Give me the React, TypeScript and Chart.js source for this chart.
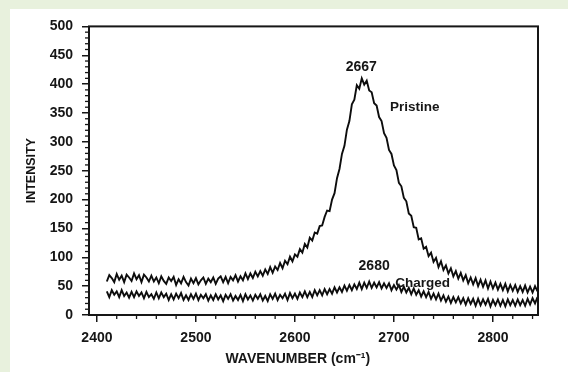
import React, { useEffect, useRef } from "react";
import { Chart, registerables } from "chart.js";

Chart.register(...registerables);

// Raman shift (cm^-1)
const wavenumbers = [
  2410, 2412.5, 2415, 2417.5, 2420, 2422.5, 2425, 2427.5, 2430, 2432.5,
  2435, 2437.5, 2440, 2442.5, 2445, 2447.5, 2450, 2452.5, 2455, 2457.5,
  2460, 2462.5, 2465, 2467.5, 2470, 2472.5, 2475, 2477.5, 2480, 2482.5,
  2485, 2487.5, 2490, 2492.5, 2495, 2497.5, 2500, 2502.5, 2505, 2507.5,
  2510, 2512.5, 2515, 2517.5, 2520, 2522.5, 2525, 2527.5, 2530, 2532.5,
  2535, 2537.5, 2540, 2542.5, 2545, 2547.5, 2550, 2552.5, 2555, 2557.5,
  2560, 2562.5, 2565, 2567.5, 2570, 2572.5, 2575, 2577.5, 2580, 2582.5,
  2585, 2587.5, 2590, 2592.5, 2595, 2597.5, 2600, 2602.5, 2605, 2607.5,
  2610, 2612.5, 2615, 2617.5, 2620, 2622.5, 2625, 2627.5, 2630, 2632.5,
  2635, 2637.5, 2640, 2642.5, 2645, 2647.5, 2650, 2652.5, 2655, 2657.5,
  2660, 2662.5, 2665, 2667.5, 2670, 2672.5, 2675, 2677.5, 2680, 2682.5,
  2685, 2687.5, 2690, 2692.5, 2695, 2697.5, 2700, 2702.5, 2705, 2707.5,
  2710, 2712.5, 2715, 2717.5, 2720, 2722.5, 2725, 2727.5, 2730, 2732.5,
  2735, 2737.5, 2740, 2742.5, 2745, 2747.5, 2750, 2752.5, 2755, 2757.5,
  2760, 2762.5, 2765, 2767.5, 2770, 2772.5, 2775, 2777.5, 2780, 2782.5,
  2785, 2787.5, 2790, 2792.5, 2795, 2797.5, 2800, 2802.5, 2805, 2807.5,
  2810, 2812.5, 2815, 2817.5, 2820, 2822.5, 2825, 2827.5, 2830, 2832.5,
  2835, 2837.5, 2840, 2842.5, 2845,
];

const pristine = [
  58, 69, 64, 57, 71, 61, 68, 57, 70, 65,
  59, 72, 62, 69, 57, 70, 65, 58, 68, 58,
  65, 55, 67, 59, 54, 65, 59, 66, 52, 62,
  55, 66, 57, 51, 63, 55, 64, 53, 60, 65,
  54, 63, 57, 65, 54, 63, 67, 57, 66, 55,
  66, 60, 69, 58, 67, 60, 72, 62, 72, 64,
  75, 67, 76, 68, 79, 71, 83, 73, 84, 78,
  90, 81, 94, 88, 101, 93, 105, 101, 114, 108,
  123, 117, 134, 129, 143, 141, 154, 155, 170, 181,
  180, 200, 211, 237, 253, 279, 293, 321, 336, 365,
  373, 398, 392, 410, 399, 406, 389, 386, 367, 363,
  343, 336, 315, 307, 286, 279, 259, 251, 229, 223,
  203, 197, 176, 172, 152, 151, 131, 133, 115, 118,
  102, 108, 92, 99, 83, 93, 78, 86, 72, 81,
  67, 76, 63, 73, 60, 69, 55, 65, 53, 64,
  50, 61, 49, 60, 46, 58, 46, 56, 44, 54,
  43, 54, 41, 52, 42, 52, 40, 50, 40, 51,
  39, 49, 39, 50, 41,
];

const charged = [
  41, 31, 43, 35, 41, 31, 43, 33, 39, 30,
  40, 31, 41, 33, 39, 29, 40, 31, 36, 28,
  39, 29, 39, 31, 37, 26, 36, 27, 37, 29,
  38, 26, 34, 26, 36, 28, 37, 26, 35, 29,
  36, 25, 34, 26, 36, 27, 34, 24, 35, 28,
  36, 25, 33, 26, 35, 24, 36, 27, 34, 25,
  35, 28, 36, 25, 33, 24, 36, 28, 37, 26,
  35, 29, 37, 26, 38, 29, 37, 28, 39, 31,
  41, 31, 40, 31, 43, 34, 43, 34, 45, 36,
  45, 37, 48, 39, 48, 40, 51, 42, 52, 43,
  53, 45, 56, 45, 56, 47, 58, 47, 56, 48,
  57, 46, 55, 47, 55, 43, 52, 44, 52, 40,
  49, 39, 47, 36, 46, 35, 43, 32, 41, 31,
  40, 28, 37, 27, 37, 25, 34, 23, 32, 21,
  31, 22, 31, 20, 29, 18, 29, 19, 28, 16,
  28, 17, 27, 18, 28, 15, 26, 17, 27, 16,
  26, 15, 27, 17, 26, 16, 27, 17, 26, 16,
  28, 18, 29, 20, 31,
];

const xTickLabels = [2400, 2500, 2600, 2700, 2800];
const yTickLabels = [0, 50, 100, 150, 200, 250, 300, 350, 400, 450, 500];

const annotationTexts = ["2667", "Pristine", "2680", "Charged"];
const annotationX = [2667, 2721, 2680, 2729];
const annotationY = [429, 360, 84, 55];

const xTitle = "WAVENUMBER (cm\u207B\u00B9)";
const yTitle = "INTENSITY";

const FONT = '"Liberation Sans", Arial, sans-serif';
const INK = "#161616";

const framePlugin = {
  id: "framePlugin",
  afterDraw(chart: any) {
    const { ctx, chartArea: a, scales } = chart;
    const x = scales.x;
    const y = scales.y;
    ctx.save();
    ctx.strokeStyle = INK;
    ctx.lineWidth = 1.3;
    // minor ticks on x (every 20)
    for (let v = xTickLabels[0]; v <= x.max; v += 20) {
      if (xTickLabels.includes(v)) continue;
      const px = x.getPixelForValue(v);
      ctx.beginPath();
      ctx.moveTo(px, a.bottom);
      ctx.lineTo(px, a.bottom + 4);
      ctx.stroke();
    }
    // minor ticks on y (every 10)
    for (let v = 0; v <= 500; v += 10) {
      if (yTickLabels.includes(v)) continue;
      const py = y.getPixelForValue(v);
      ctx.beginPath();
      ctx.moveTo(a.left, py);
      ctx.lineTo(a.left - 4, py);
      ctx.stroke();
    }
    // frame
    ctx.lineWidth = 2;
    ctx.strokeRect(a.left, a.top, a.right - a.left, a.bottom - a.top);

    // annotations
    ctx.fillStyle = INK;
    ctx.textAlign = "center";
    ctx.textBaseline = "middle";
    annotationTexts.forEach((t, i) => {
      ctx.font = `bold ${/^\d+$/.test(t) ? 14 : 13.5}px ${FONT}`;
      ctx.fillText(t, x.getPixelForValue(annotationX[i]), y.getPixelForValue(annotationY[i]));
    });

    // x title
    ctx.font = `bold 14px ${FONT}`;
    ctx.fillText(xTitle, a.left + (a.right - a.left) * 0.465, a.bottom + 44);
    ctx.restore();
  },
};

export default function App() {
  const ref = useRef<HTMLCanvasElement | null>(null);

  useEffect(() => {
    if (!ref.current) return;
    const chart = new Chart(ref.current, {
      type: "line",
      data: {
        datasets: [
          {
            label: "Pristine",
            data: wavenumbers.map((w, i) => ({ x: w, y: pristine[i] })),
            borderColor: "#0d0d0d",
            borderWidth: 1.9,
            pointRadius: 0,
            tension: 0,
          },
          {
            label: "Charged",
            data: wavenumbers.map((w, i) => ({ x: w, y: charged[i] })),
            borderColor: "#0d0d0d",
            borderWidth: 1.9,
            pointRadius: 0,
            tension: 0,
          },
        ],
      },
      options: {
        animation: false,
        responsive: false,
        layout: { padding: { top: 16, right: 30, left: 0, bottom: 0 } },
        plugins: { legend: { display: false }, tooltip: { enabled: false } },
        scales: {
          x: {
            type: "linear",
            min: 2392,
            max: 2845.5,
            afterBuildTicks: (s: any) => {
              s.ticks = xTickLabels.map((v) => ({ value: v }));
            },
            afterFit: (s: any) => {
              s.height = 57;
            },
            ticks: {
              autoSkip: false,
              maxRotation: 0,
              padding: 8,
              color: INK,
              font: { family: FONT, size: 14, weight: "bold" },
              callback: (v: any) => String(v),
            },
            grid: {
              drawOnChartArea: false,
              drawTicks: true,
              tickLength: 7,
              color: INK,
              lineWidth: 1.5,
            },
            border: { display: false },
          },
          y: {
            min: 0,
            max: 500,
            afterBuildTicks: (s: any) => {
              s.ticks = yTickLabels.map((v) => ({ value: v }));
            },
            afterFit: (s: any) => {
              s.width = 79;
            },
            ticks: {
              padding: 9,
              color: INK,
              font: { family: FONT, size: 14, weight: "bold" },
              callback: (v: any) => String(v),
            },
            grid: {
              drawOnChartArea: false,
              drawTicks: true,
              tickLength: 7,
              color: INK,
              lineWidth: 1.5,
            },
            border: { display: false },
            title: {
              display: true,
              text: yTitle,
              color: INK,
              font: { family: FONT, size: 12.5, weight: "bold" },
              padding: { top: 14, bottom: 0 },
            },
          },
        },
      },
      plugins: [framePlugin],
    });
    return () => chart.destroy();
  }, []);

  return (
    <div
      style={{
        position: "fixed",
        left: 0,
        top: 0,
        width: 568,
        height: 372,
        background: "#e8f1dd",
        overflow: "hidden",
      }}
    >
      <div
        style={{
          position: "absolute",
          left: 10,
          top: 9,
          width: 558,
          height: 363,
          background: "#ffffff",
        }}
      >
        <canvas ref={ref} width={558} height={363} style={{ display: "block" }} />
      </div>
    </div>
  );
}
